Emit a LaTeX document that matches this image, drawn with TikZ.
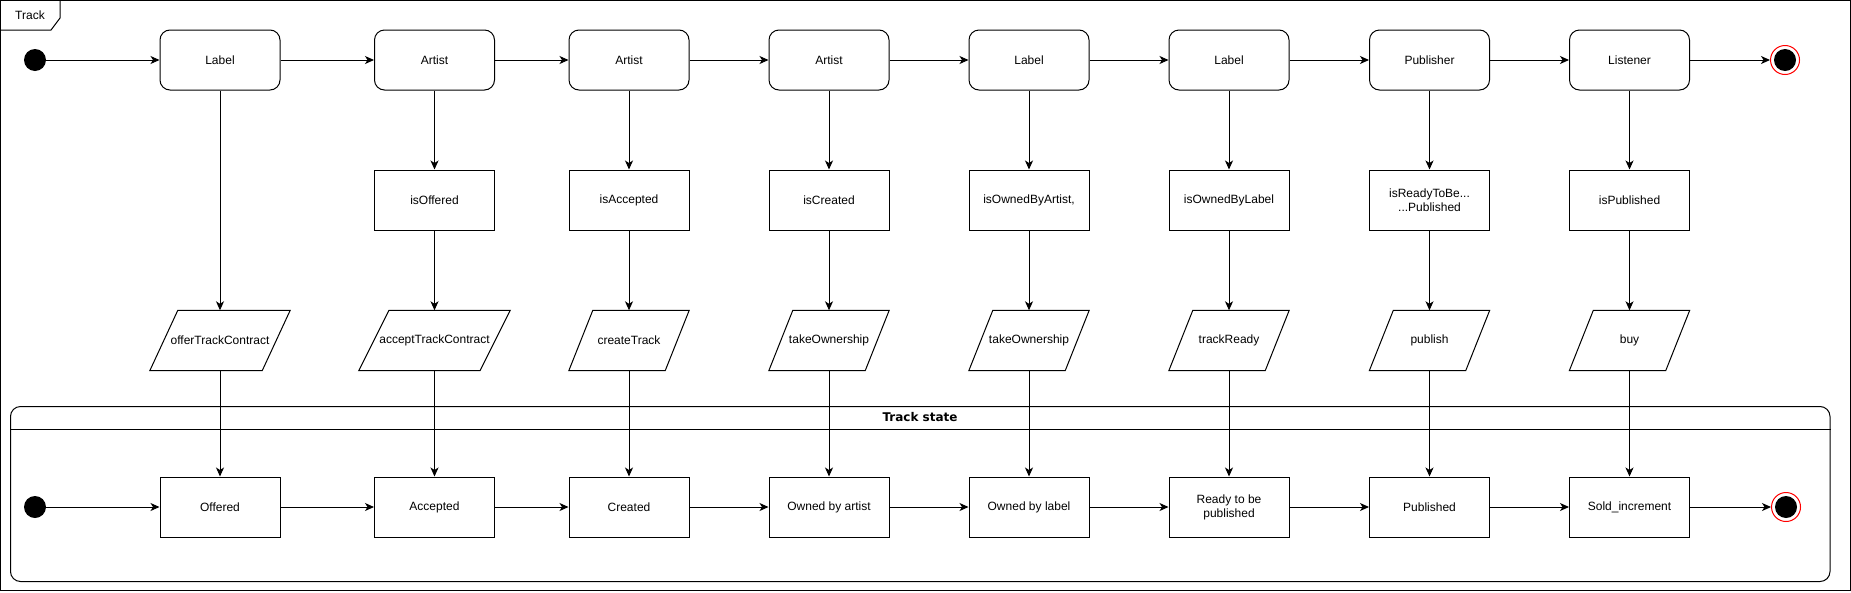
\documentclass[tikz,border=0pt]{standalone}
\usepackage{fontspec}
\setmainfont{Liberation Sans}
\newfontfamily\titlefont{DejaVu Sans}
\usetikzlibrary{arrows.meta, positioning}

\tikzset{
    every node/.style={font=\fontsize{12}{14}\selectfont},
    flow/.style={line width=1pt, -{Stealth[length=9pt, width=8pt, inset=2.5pt]}},
    role/.style={draw, line width=1pt, rounded corners=10pt, minimum width=120pt, minimum height=60pt, inner sep=0pt},
    check/.style={draw, line width=1pt, minimum width=120pt, minimum height=60pt, inner sep=0pt, align=center},
    action/.style={minimum width=#1, minimum height=60pt, inner sep=0pt,
        append after command={\pgfextra{\draw[line width=1pt]
            ([xshift={0.2*#1}]\tikzlastnode.north west) -- (\tikzlastnode.north east)
            -- ([xshift={-0.2*#1}]\tikzlastnode.south east) -- (\tikzlastnode.south west) -- cycle;}}},
    action/.default=120pt,
    status/.style={draw, line width=1pt, minimum width=120pt, minimum height=60pt, inner sep=0pt, align=center},
    initial/.style={circle, fill, inner sep=0pt, minimum size=22pt},
    final/.style={circle, draw=red, line width=1pt, fill=white, inner sep=0pt, minimum size=29pt,
        path picture={\fill[black] (path picture bounding box.center) circle (11pt);}}
}

\begin{document}
\begin{tikzpicture}[x=1pt, y=-1pt]
    \useasboundingbox (0,0) rectangle (1851,592);

    % Draw the outer frame with its tab
    \draw[line width=1pt] (0.5,0.5) rectangle (1850.5,590.5);
    \draw[line width=1pt] (0.5,30) -- (51,30) -- (60,18) -- (60,0.5);
    \node (frametitle) at (30,15) {Track};

    % Draw the track state container
    \node[draw, line width=1pt, rounded corners=10pt, minimum width=1819.5pt, minimum height=175pt, inner sep=0pt]
        (statebox) at (920.25,494) {};
    \draw[line width=1pt] (statebox.west |- 0,429) -- (statebox.east |- 0,429);
    \node[font=\titlefont\bfseries\fontsize{12}{14}\selectfont] (statetitle) at (920,417.5) {Track state};

    % Roles
    \node[initial] (start1) at (35,60) {};
    \node[role] (lbl1) at (220,60) {Label};
    \node[role] (art1) at (434.5,60) {Artist};
    \node[role] (art2) at (629,60) {Artist};
    \node[role] (art3) at (829,60) {Artist};
    \node[role] (lbl2) at (1029,60) {Label};
    \node[role] (lbl3) at (1229,60) {Label};
    \node[role] (pub) at (1429.5,60) {Publisher};
    \node[role] (lis) at (1629.5,60) {Listener};
    \node[final] (stop1) at (1785,60) {};

    % Conditions
    \node[check] (isoffered) at (434.5,200) {isOffered};
    \node[check] (isaccepted) at (629,200) {isAccepted};
    \node[check] (iscreated) at (829,200) {isCreated};
    \node[check] (isownart) at (1029,200) {isOwnedByArtist,};
    \node[check] (isownlbl) at (1229,200) {isOwnedByLabel};
    \node[check] (isready) at (1429.5,200) {isReadyToBe...\\...Published};
    \node[check] (ispub) at (1629.5,200) {isPublished};

    % Functions
    \node[action=140pt] (offer) at (220,340.5) {offerTrackContract};
    \node[action=151pt] (accept) at (434.5,340.5) {acceptTrackContract};
    \node[action] (create) at (629,340.5) {createTrack};
    \node[action] (takeart) at (829,340.5) {takeOwnership};
    \node[action] (takelbl) at (1029,340.5) {takeOwnership};
    \node[action] (ready) at (1229,340.5) {trackReady};
    \node[action] (publish) at (1429.5,340.5) {publish};
    \node[action] (buy) at (1629.5,340.5) {buy};

    % States
    \node[initial] (start2) at (35,507) {};
    \node[status] (offered) at (220,507) {Offered};
    \node[status] (accepted) at (434.5,507) {Accepted};
    \node[status] (created) at (629,507) {Created};
    \node[status] (ownart) at (829,507) {Owned by artist};
    \node[status] (ownlbl) at (1029,507) {Owned by label};
    \node[status] (readypub) at (1229,507) {Ready to be\\published};
    \node[status] (published) at (1429.5,507) {Published};
    \node[status] (sold) at (1629.5,507) {Sold\_increment};
    \node[final] (stop2) at (1786,507) {};

    % Role sequence
    \draw[flow] (start1) -- (lbl1);
    \draw[flow] (lbl1) -- (art1);
    \draw[flow] (art1) -- (art2);
    \draw[flow] (art2) -- (art3);
    \draw[flow] (art3) -- (lbl2);
    \draw[flow] (lbl2) -- (lbl3);
    \draw[flow] (lbl3) -- (pub);
    \draw[flow] (pub) -- (lis);
    \draw[flow] (lis) -- (stop1);

    % Roles to conditions to functions
    \draw[flow] (lbl1) -- (offer);
    \draw[flow] (art1) -- (isoffered);
    \draw[flow] (isoffered) -- (accept);
    \draw[flow] (art2) -- (isaccepted);
    \draw[flow] (isaccepted) -- (create);
    \draw[flow] (art3) -- (iscreated);
    \draw[flow] (iscreated) -- (takeart);
    \draw[flow] (lbl2) -- (isownart);
    \draw[flow] (isownart) -- (takelbl);
    \draw[flow] (lbl3) -- (isownlbl);
    \draw[flow] (isownlbl) -- (ready);
    \draw[flow] (pub) -- (isready);
    \draw[flow] (isready) -- (publish);
    \draw[flow] (lis) -- (ispub);
    \draw[flow] (ispub) -- (buy);

    % Functions to states
    \draw[flow] (offer) -- (offered);
    \draw[flow] (accept) -- (accepted);
    \draw[flow] (create) -- (created);
    \draw[flow] (takeart) -- (ownart);
    \draw[flow] (takelbl) -- (ownlbl);
    \draw[flow] (ready) -- (readypub);
    \draw[flow] (publish) -- (published);
    \draw[flow] (buy) -- (sold);

    % State sequence
    \draw[flow] (start2) -- (offered);
    \draw[flow] (offered) -- (accepted);
    \draw[flow] (accepted) -- (created);
    \draw[flow] (created) -- (ownart);
    \draw[flow] (ownart) -- (ownlbl);
    \draw[flow] (ownlbl) -- (readypub);
    \draw[flow] (readypub) -- (published);
    \draw[flow] (published) -- (sold);
    \draw[flow] (sold) -- (stop2);
\end{tikzpicture}
\end{document}
